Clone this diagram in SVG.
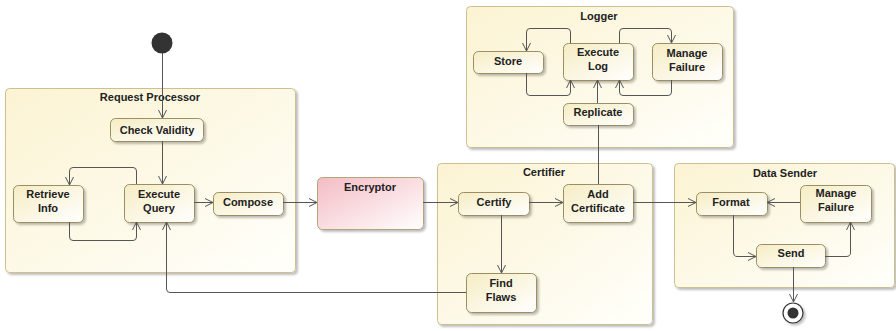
<svg xmlns="http://www.w3.org/2000/svg" width="896" height="331" viewBox="0 0 896 331">
<defs>
<linearGradient id="gFrame" x1="0" y1="0" x2="1" y2="1">
<stop offset="0" stop-color="#fbf3d2"/>
<stop offset="1" stop-color="#fffffb"/>
</linearGradient>
<linearGradient id="gNode" x1="0" y1="0" x2="1" y2="1">
<stop offset="0" stop-color="#f6edc4"/>
<stop offset="1" stop-color="#ffffff"/>
</linearGradient>
<linearGradient id="gEnc" x1="0" y1="0" x2="1" y2="1">
<stop offset="0" stop-color="#f4bcc4"/>
<stop offset="1" stop-color="#ffffff"/>
</linearGradient>
<filter id="sh" x="-10%" y="-10%" width="130%" height="130%">
<feDropShadow dx="2" dy="2" stdDeviation="1" flood-color="#000" flood-opacity="0.25"/>
</filter>
<marker id="arr" viewBox="0 0 10 10" refX="9" refY="5" markerWidth="10" markerHeight="10" markerUnits="userSpaceOnUse" orient="auto">
<path d="M1,1 L9,5 L1,9" fill="none" stroke="#555" stroke-width="1"/>
</marker>
</defs>
<style>
.frame{fill:url(#gFrame);stroke:#cdbf90;stroke-width:1;filter:url(#sh)}
.node{fill:url(#gNode);stroke:#9a8e62;stroke-width:1;filter:url(#sh)}
.enc{fill:url(#gEnc);stroke:#b3a47a;stroke-width:1;filter:url(#sh)}
text{font-family:"Liberation Sans",Arial,sans-serif;font-size:11px;font-weight:bold;fill:#222;text-anchor:middle}
.c{fill:none;stroke:#555;stroke-width:1;marker-end:url(#arr)}
.p{fill:none;stroke:#555;stroke-width:1}
</style>

<g id="request-processor">
<rect class="frame" x="5.5" y="88.5" width="290" height="184" rx="4"/>
<text x="150" y="101">Request Processor</text>
</g>
<g id="certifier">
<rect class="frame" x="437.5" y="163.5" width="215" height="161" rx="4"/>
<text x="544" y="176">Certifier</text>
</g>
<g id="logger">
<rect class="frame" x="466.5" y="6.5" width="267" height="141" rx="4"/>
<text x="599" y="20">Logger</text>
</g>
<g id="data-sender">
<rect class="frame" x="674.5" y="163.5" width="220" height="124" rx="4"/>
<text x="785" y="177">Data Sender</text>
</g>

<g id="initial">
<circle cx="162" cy="43" r="10.5" fill="#333"/>
</g>
<g id="check-validity">
<rect class="node" x="110.5" y="118.5" width="93" height="23" rx="5"/>
<text x="157" y="134">Check Validity</text>
</g>
<g id="retrieve-info">
<rect class="node" x="13.5" y="185.5" width="70" height="37" rx="5"/>
<text x="48" y="198">Retrieve</text>
<text x="48" y="212">Info</text>
</g>
<g id="execute-query">
<rect class="node" x="124.5" y="184.5" width="70" height="38" rx="5"/>
<text x="159" y="198">Execute</text>
<text x="159" y="212">Query</text>
</g>
<g id="compose">
<rect class="node" x="213.5" y="192.5" width="70" height="23" rx="5"/>
<text x="248" y="206">Compose</text>
</g>
<g id="encryptor">
<rect class="enc" x="317.5" y="177.5" width="106" height="52" rx="5"/>
<text x="370" y="191">Encryptor</text>
</g>
<g id="certify">
<rect class="node" x="458.5" y="192.5" width="71" height="23" rx="5"/>
<text x="494" y="206">Certify</text>
</g>
<g id="add-certificate">
<rect class="node" x="563.5" y="184.5" width="70" height="38" rx="5"/>
<text x="598" y="198">Add</text>
<text x="598" y="212">Certificate</text>
</g>
<g id="find-flaws">
<rect class="node" x="466.5" y="273.5" width="70" height="39" rx="5"/>
<text x="501" y="287">Find</text>
<text x="501" y="301">Flaws</text>
</g>
<g id="store">
<rect class="node" x="473.5" y="51.5" width="70" height="22" rx="5"/>
<text x="508" y="65">Store</text>
</g>
<g id="execute-log">
<rect class="node" x="563.5" y="43.5" width="70" height="37" rx="5"/>
<text x="598" y="56">Execute</text>
<text x="598" y="70">Log</text>
</g>
<g id="manage-failure-logger">
<rect class="node" x="652.5" y="43.5" width="70" height="37" rx="5"/>
<text x="687" y="57">Manage</text>
<text x="687" y="71">Failure</text>
</g>
<g id="replicate">
<rect class="node" x="563.5" y="103.5" width="70" height="22" rx="5"/>
<text x="598" y="116">Replicate</text>
</g>
<g id="format">
<rect class="node" x="696.5" y="192.5" width="71" height="23" rx="5"/>
<text x="731" y="206">Format</text>
</g>
<g id="manage-failure-sender">
<rect class="node" x="800.5" y="185.5" width="71" height="37" rx="5"/>
<text x="836" y="197">Manage</text>
<text x="836" y="211">Failure</text>
</g>
<g id="send">
<rect class="node" x="756.5" y="244.5" width="69" height="23" rx="5"/>
<text x="791" y="257">Send</text>
</g>
<g id="final">
<circle cx="793" cy="313" r="10" fill="#fff" stroke="#333" stroke-width="1.2" filter="url(#sh)"/>
<circle cx="793" cy="313" r="5.5" fill="#333"/>
</g>

<g id="connectors">
<path class="c" d="M162.5,53 V118"/>
<path class="c" d="M162.5,141 V184"/>
<path class="c" d="M136.5,184 V171 Q136.5,167.5 133,167.5 H73 Q69.5,167.5 69.5,171 V185"/>
<path class="c" d="M69.5,222 V237 Q69.5,240.5 73,240.5 H133 Q136.5,240.5 136.5,237 V222"/>
<path class="c" d="M194,202.5 H213"/>
<path class="c" d="M283,202.5 H317"/>
<path class="c" d="M423,202.5 H458"/>
<path class="c" d="M529,202.5 H563"/>
<path class="c" d="M501.5,215 V273"/>
<path class="c" d="M466,292.5 H170 Q166.5,292.5 166.5,289 V222"/>
<path class="p" d="M598.5,184 V125"/>
<path class="c" d="M597.5,103 V80"/>
<path class="c" d="M570.5,43 V32 Q570.5,28.5 567,28.5 H530 Q526.5,28.5 526.5,32 V51"/>
<path class="c" d="M526.5,73 V92 Q526.5,95.5 530,95.5 H567 Q570.5,95.5 570.5,92 V80"/>
<path class="c" d="M619.5,43 V32 Q619.5,28.5 623,28.5 H668 Q671.5,28.5 671.5,32 V43"/>
<path class="c" d="M671.5,80 V92 Q671.5,95.5 668,95.5 H623 Q619.5,95.5 619.5,92 V80"/>
<path class="c" d="M633,202.5 H696"/>
<path class="c" d="M800,202.5 H767"/>
<path class="c" d="M733.5,215 V252 Q733.5,256.5 737,256.5 H756"/>
<path class="c" d="M825,256.5 H846 Q850.5,256.5 850.5,253 V222"/>
<path class="c" d="M793.5,267 V302"/>
</g>
</svg>
